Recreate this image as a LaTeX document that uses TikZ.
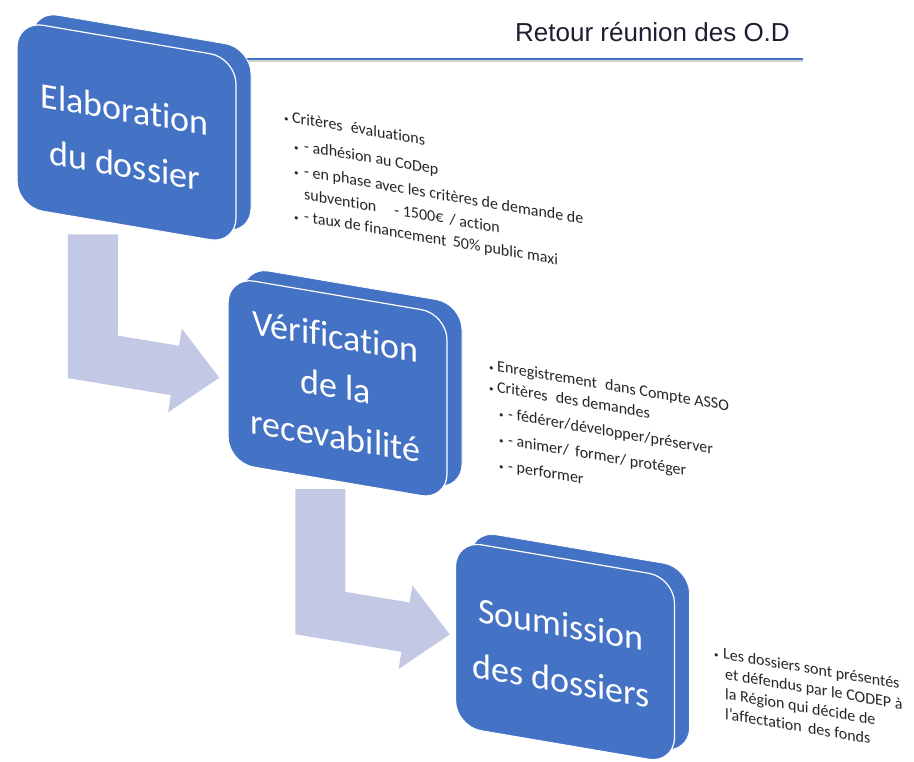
\documentclass[tikz,border=0pt]{standalone}
\usepackage{fontspec}
\setmainfont{Carlito}[Ligatures={NoCommon,NoContextual}]
\newfontfamily\retourfont{Liberation Sans}
\usetikzlibrary{calc,arrows.meta,shadows}

\definecolor{boxblue}{RGB}{68,114,196}
\definecolor{flowblue}{RGB}{195,201,229}
\definecolor{noteink}{RGB}{38,38,38}
\definecolor{titleink}{RGB}{30,30,50}

\begin{document}
\begin{tikzpicture}[x=1pt,y=-1pt,
        stagetext/.style={text=white, align=center, inner sep=0pt, font=\fontsize{36}{56}\selectfont},
        note/.style={anchor=base west, inner sep=0pt, text=noteink, font=\fontsize{16}{20}\selectfont},
        dot/.style={anchor=base west, inner sep=0pt, text=noteink, font=\fontsize{9}{9}\selectfont},
        flow/.style={draw=flowblue, line width=50pt, -{Triangle[length=45pt,width=82pt]}}]

        \fill[white] (0,0) rectangle (914,762);
        \useasboundingbox (0,0) rectangle (914,762);

        \node[anchor=base west, inner sep=0pt, text=titleink, font=\retourfont\fontsize{26}{30}\selectfont] (title) at (515,42) {Retour réunion des O.D};
        \draw[gray!35, line width=2pt] (243,61.5) -- (803,61.5);
        \draw[boxblue, line width=1.8pt] (243,59) -- (803,59);

        \begin{scope}[yslant=-0.17, transform shape]
            \begin{scope}[every node/.style={rectangle, rounded corners=26pt, fill=boxblue, draw=white, line width=1.2pt,
                    minimum width=219pt, minimum height=186pt,
                    general shadow={shadow xshift=15pt, shadow yshift=10pt, fill=boxblue, draw=white, line width=0.8pt}}]
                \node (el) at (126.5,111) {};
                \node (veri) at (337.5,331) {};
                \node (soum) at (565,556) {};
            \end{scope}

            \node[stagetext] (el-t) at ($(el)+(-2,5)$) {Elaboration\\du dossier};
            \node[stagetext, font=\fontsize{36}{50}\selectfont] (veri-t) at ($(veri)+(-2,-2)$) {Vérification\\de la\\recevabilité};
            \node[stagetext] (soum-t) at ($(soum)+(-4,1)$) {Soumission\\des dossiers};

            \draw[flow] ($(el.south west)+(76.5,14)$) -- ++(0,122.5) -- ($(veri.west)+(-8,9.5)$);
            \draw[flow] ($(veri.south west)+(93,10)$) -- ++(0,124) -- ($(soum.west)+(-5,2)$);

            \node[dot] (d1a) at (284,73) {\textbullet};
            \node[note] (n1a) at (292,73) {Critères\; évaluations};
            \node[dot] (d1b) at (294,100) {\textbullet};
            \node[note] (n1b) at (304,100) {- adhésion au CoDep};
            \node[dot] (d1c) at (294,125) {\textbullet};
            \node[note] (n1c) at (304,125) {- en phase avec les critères de demande de};
            \node[note] (n1d) at (304,148) {subvention\hspace{18pt}- 1500€\, / action};
            \node[dot] (d1e) at (294,170) {\textbullet};
            \node[note] (n1e) at (304,170) {- taux de financement\, 50\% public maxi};

            \node[dot] (d2a) at (489,287) {\textbullet};
            \node[note] (n2a) at (497,287) {Enregistrement\; dans Compte ASSO};
            \node[dot] (d2b) at (489,308) {\textbullet};
            \node[note] (n2b) at (497,308) {Critères\; des demandes};
            \node[dot] (d2c) at (499,333) {\textbullet};
            \node[note] (n2c) at (508,333) {- fédérer/développer/préserver};
            \node[dot] (d2d) at (499,359) {\textbullet};
            \node[note] (n2d) at (508,359) {- animer/\, former/ protéger};
            \node[dot] (d2e) at (499,385) {\textbullet};
            \node[note] (n2e) at (508,385) {- performer};

            \node[dot] (d3a) at (714,536) {\textbullet};
            \node[note] (n3a) at (723,536) {Les dossiers sont présentés};
            \node[note] (n3b) at (725,556) {et défendus par le CODEP à};
            \node[note] (n3c) at (725,576) {la Région qui décide de};
            \node[note] (n3d) at (725,596) {l'affectation\, des fonds};
        \end{scope}
    \end{tikzpicture}
\end{document}
